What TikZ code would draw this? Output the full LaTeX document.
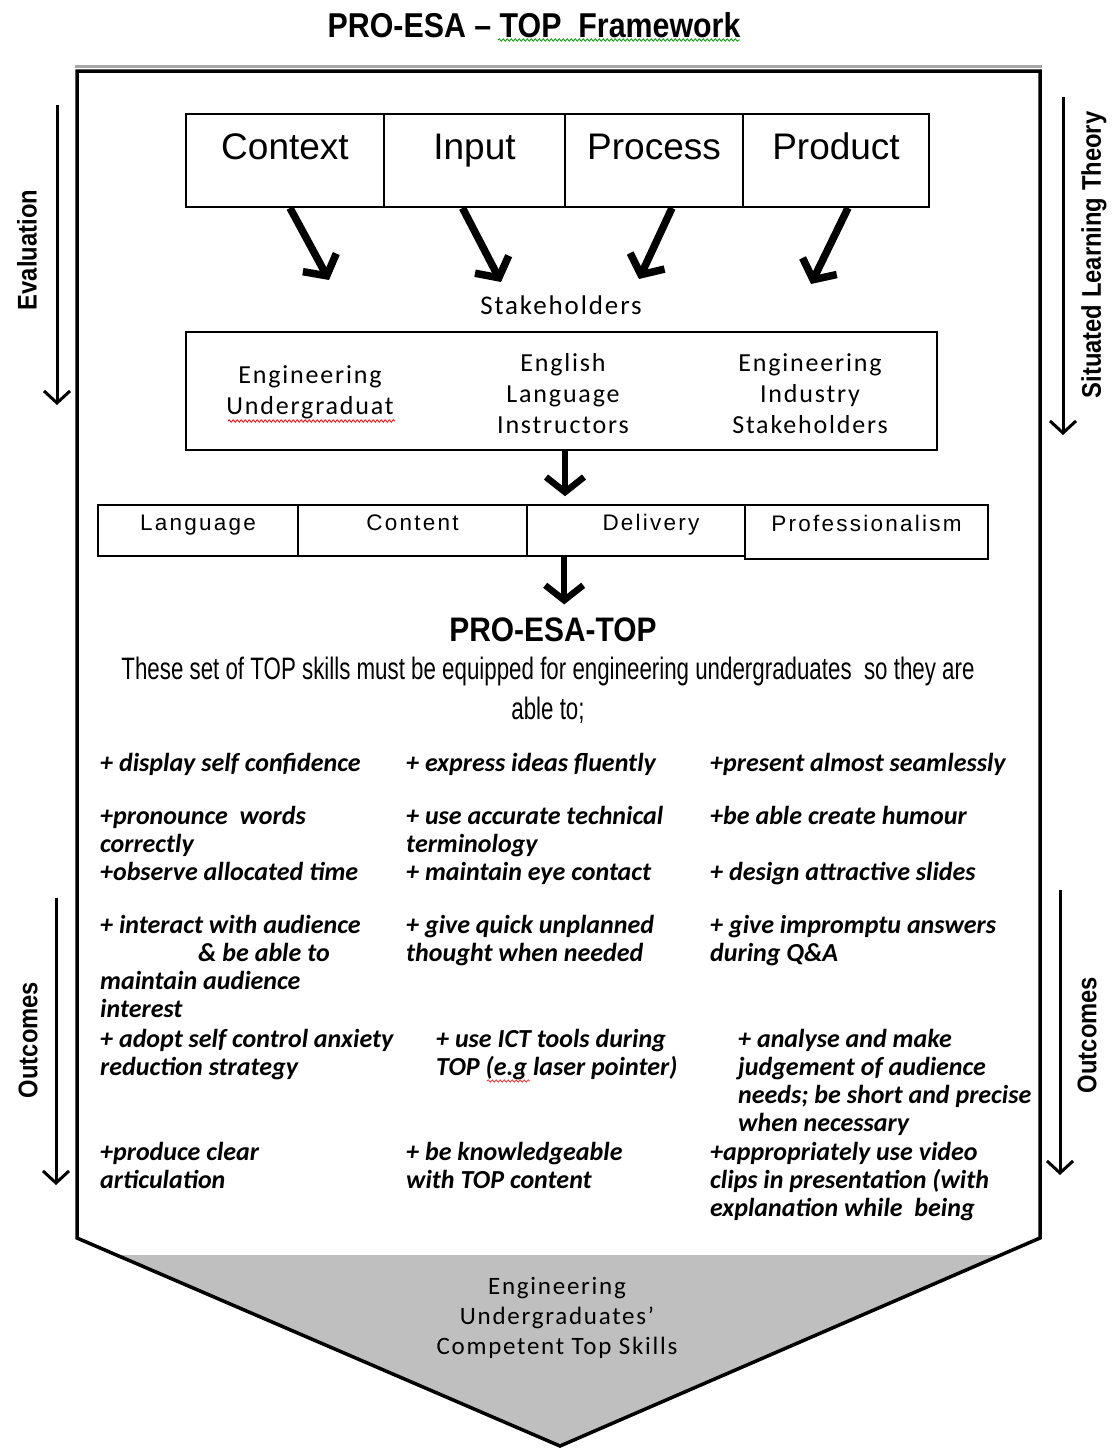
\documentclass[tikz,border=0pt]{standalone}
\usepackage{fontspec}
\setmainfont{Liberation Sans}
\newfontfamily\narrowfont[FakeStretch=0.88]{Liberation Sans}
\newfontfamily\condfont[FakeStretch=0.72]{Liberation Sans}
\newfontfamily\spacedfont[LetterSpace=10]{Liberation Sans}
\newfontfamily\calfont[LetterSpace=7]{Carlito}
\newfontfamily\listfont{Carlito}
\newcommand\skillfont{\listfont\bfseries\itshape\fontsize{26}{28}\selectfont}
\usetikzlibrary{arrows.meta,positioning,calc,decorations.pathmorphing}

\begin{document}
\begin{tikzpicture}[x=1pt,y=-1pt,line join=miter,
    stagebox/.style={draw,line width=2pt,minimum height=93pt,text height=27pt,text depth=29pt,font=\fontsize{37}{44}\selectfont},
    critbox/.style={draw,line width=1.6pt,minimum height=51pt,text height=16pt,text depth=17pt,font=\spacedfont\fontsize{22.5}{26}\selectfont},
    stakeitem/.style={align=center,font=\calfont\fontsize{26}{31}\selectfont},
    skill/.style={anchor=base west,align=left,inner sep=0pt,font=\skillfont},
    sidelabel/.style={rotate=90,font=\narrowfont\bfseries\fontsize{27}{30}\selectfont},
    sidearrow/.style={line width=3pt,-{Straight Barb[length=12pt,width=26pt]}},
    bigarrow/.style={line width=7.5pt,-{Straight Barb[length=15pt,width=38pt]}},
    wavy/.style={decorate,decoration={snake,amplitude=1.2pt,segment length=4pt},line width=0.8pt}]
  \useasboundingbox (0,0) rectangle (1114,1448);

  \fill[gray!50] (116,1255) -- (1001,1255) -- (560,1446) -- cycle;
  \draw[gray!70,line width=3pt] (75,66) -- (1042,66);
  \draw[line width=3.5pt] (77,1238) -- (77,71) -- (1040,71) -- (1040,1238) -- (560,1446) -- cycle;

  \node[font=\narrowfont\bfseries\fontsize{34.5}{38}\selectfont] (title) at (534,25) {PRO-ESA – TOP\ \ Framework};
  \draw[wavy,green!60!black] (498,40) -- (740,40);

  \node[stagebox,minimum width=198pt] (ctx) at (285,160.5) {Context};
  \node[stagebox,minimum width=181pt] (inp) at (474.5,160.5) {Input};
  \node[stagebox,minimum width=178pt] (prc) at (654,160.5) {Process};
  \node[stagebox,minimum width=186pt] (prd) at (836,160.5) {Product};

  \coordinate (t1) at (329,280);
  \coordinate (t2) at (501,282);
  \coordinate (t3) at (639,279);
  \coordinate (t4) at (811,284);
  \draw[bigarrow] ([xshift=5pt]ctx.south) -- (t1);
  \draw[bigarrow] ([xshift=-12pt]inp.south) -- (t2);
  \draw[bigarrow] ([xshift=18pt]prc.south) -- (t3);
  \draw[bigarrow] ([xshift=12pt]prd.south) -- (t4);

  \node[font=\calfont\fontsize{27}{32}\selectfont] (stk) at (561,305) {Stakeholders};
  \node[draw,line width=2pt,minimum width=751pt,minimum height=118pt] (stake) at (561.5,391) {};
  \node[stakeitem] (ug) at (310,392.5) {Engineering\\Undergraduat};
  \node[stakeitem] (eli) at (563,393.5) {English\\Language\\Instructors};
  \node[stakeitem] (eis) at (810,393.5) {Engineering\\Industry\\Stakeholders};
  \draw[wavy,red] (228,421) -- (395,421);

  \node[critbox,minimum width=200pt] (lang) at (198,530.5) {Language};
  \node[critbox,minimum width=229pt] (cont) at (412.5,530.5) {Content};
  \node[critbox,minimum width=218pt] (deliv) at (636,530.5) {\hspace*{30pt}Delivery};
  \node[critbox,minimum width=243pt,minimum height=54pt] (prof) at (866.5,532) {Professionalism};
  \draw[bigarrow,line width=6.5pt,shorten >=8pt] ([xshift=3.5pt]stake.south) -- ([xshift=3.5pt]stake.south |- deliv.north);

  \node[font=\narrowfont\bfseries\fontsize{34}{38}\selectfont] (pro) at (553,630) {PRO-ESA-TOP};
  \draw[bigarrow,line width=6.5pt,shorten >=10pt] ([xshift=38pt]deliv.south west) -- ([xshift=38pt]deliv.south west |- pro.north);
  \node[align=center,font=\condfont\fontsize{31}{40}\selectfont] (desc) at (548,690) {These set of TOP skills must be equipped for engineering undergraduates\ \ so they are\\able to;};

  \node[skill] (s11) at (100,771) {+ display self confidence};
  \node[skill] (s12) at (406,771) {+ express ideas fluently};
  \node[skill] (s13) at (710,771) {+present almost seamlessly};
  \node[skill] (s21) at (100,852) {+pronounce\ \ words\\correctly};
  \node[skill] (s22) at (406,852) {+ use accurate technical\\terminology};
  \node[skill] (s23) at (710,824) {+be able create humour};
  \node[skill] (s31) at (100,880) {+observe allocated time};
  \node[skill] (s32) at (406,880) {+ maintain eye contact};
  \node[skill] (s33) at (710,880) {+ design attractive slides};
  \node[skill] (s41) at (100,1017) {+ interact with audience\\\hspace*{98pt}\& be able to\\maintain audience\\interest};
  \node[skill] (s42) at (406,961) {+ give quick unplanned\\thought when needed};
  \node[skill] (s43) at (710,961) {+ give impromptu answers\\during Q\&A};
  \node[skill] (s51) at (100,1075) {+ adopt self control anxiety\\reduction strategy};
  \node[skill] (s52) at (436,1075) {+ use ICT tools during\\TOP (e.g laser pointer)};
  \node[skill] (s53) at (738,1131) {+ analyse and make\\judgement of audience\\needs; be short and precise\\when necessary};
  \node[skill] (s61) at (100,1188) {+produce clear\\articulation};
  \node[skill] (s62) at (406,1188) {+ be knowledgeable\\with TOP content};
  \node[skill] (s63) at (710,1216) {+appropriately use video\\clips in presentation (with\\explanation while\ \ being};
  \draw[wavy,red,line width=0.6pt] (487,1081) -- (530,1081);

  \node[stakeitem,font=\calfont\fontsize{25}{30}\selectfont] (result) at (557,1318) {Engineering\\Undergraduates’\\Competent Top Skills};

  \coordinate (ev1) at (57,105);  \coordinate (ev2) at (57,405);
  \coordinate (sl1) at (1063,97); \coordinate (sl2) at (1063,435);
  \coordinate (ol1) at (56,898);  \coordinate (ol2) at (56,1185);
  \coordinate (or1) at (1060,890); \coordinate (or2) at (1060,1175);
  \draw[sidearrow] (ev1) -- (ev2);
  \draw[sidearrow] (sl1) -- (sl2);
  \draw[sidearrow] (ol1) -- (ol2);
  \draw[sidearrow] (or1) -- (or2);
  \node[sidelabel] (evl) at (27,250) {Evaluation};
  \node[sidelabel] (sll) at (1094,255) {Situated Learning Theory};
  \node[sidelabel] (oll) at (28,1040) {Outcomes};
  \node[sidelabel] (orl) at (1087,1035) {Outcomes};
\end{tikzpicture}
\end{document}
